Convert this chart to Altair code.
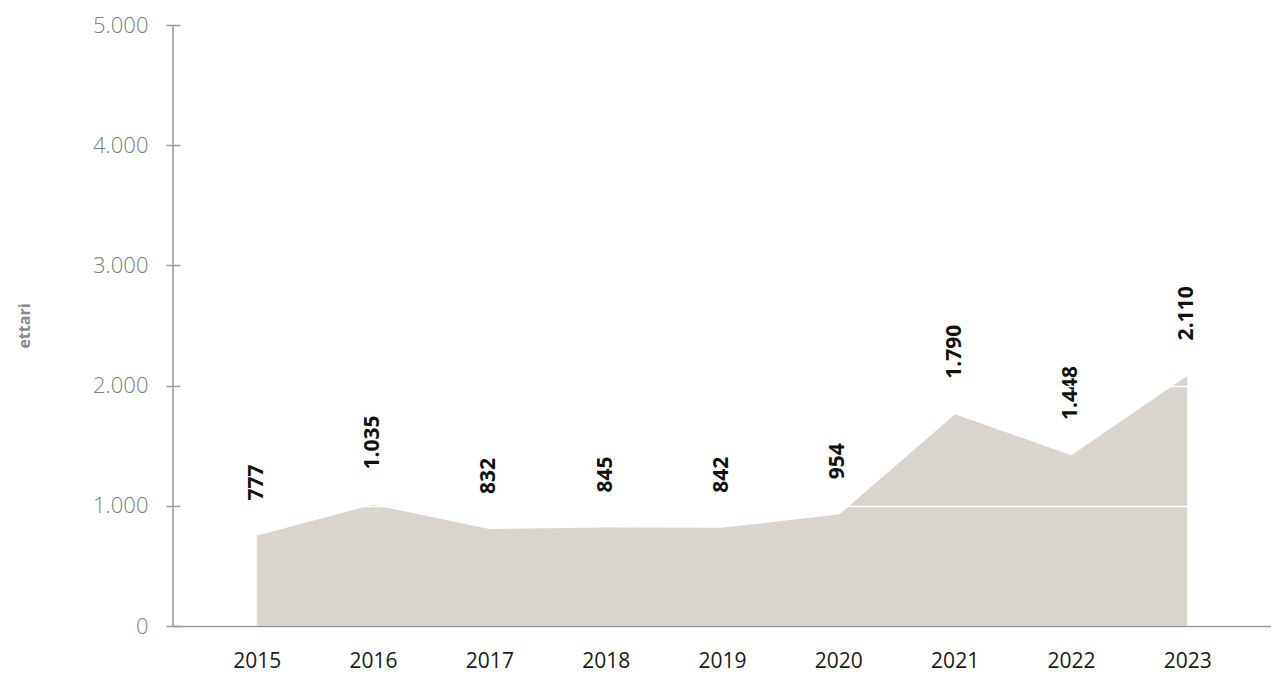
import altair as alt
import pandas as pd

years = ["2015", "2016", "2017", "2018", "2019", "2020", "2021", "2022", "2023"]
ettari = [777, 1035, 832, 845, 842, 954, 1790, 1448, 2110]
y_ticks = [0, 1000, 2000, 3000, 4000, 5000]

df = pd.DataFrame({"anno": years, "ettari": ettari})

W, H = 1098, 601
FONT = "Open Sans"
FILL = "#d9d4cd"

x_enc = alt.X("anno:O", scale=alt.Scale(type="point", padding=0.72),
              axis=alt.Axis(title=None, labelAngle=0, ticks=False, domain=True,
                            domainColor="#9a9a9a", domainWidth=1.5,
                            labelFont=FONT, labelFontSize=21, labelColor="#1a1a1a",
                            labelPadding=24, zindex=2))
y_scale = alt.Scale(domain=[0, 5000], nice=False, zero=True)

area = alt.Chart(df).mark_area(color=FILL, opacity=1, interpolate="linear").encode(
    x=x_enc,
    y=alt.Y("ettari:Q", scale=y_scale,
            axis=alt.Axis(title="ettari", values=y_ticks, domain=False,
                          tickSize=14, tickColor="#9a9a9a", tickWidth=1.5, offset=-7,
                          labelExpr="replace(format(datum.value, ','), ',', '.')",
                          labelFont=FONT, labelFontSize=22, labelFontWeight=300,
                          labelColor="#7d7d7d", labelPadding=18,
                          grid=True, gridColor="#ffffff", gridWidth=1.5,
                          titleFont=FONT, titleFontSize=16, titleFontWeight="bold",
                          titleColor="#8a8a8a", titlePadding=60, zindex=1)),
)

edge = alt.Chart(df).mark_line(color="white", strokeWidth=6, strokeCap="butt").encode(
    x=alt.X("anno:O"),
    y=alt.Y("ettari:Q"),
)

yline = alt.Chart(pd.DataFrame({"a": [0], "b": [5000]})).mark_rule(
    color="#9a9a9a", strokeWidth=1.5).encode(
    x=alt.value(0),
    y=alt.Y("a:Q"),
    y2=alt.Y2("b:Q"),
)

labels = alt.Chart(df).transform_calculate(
    lab="replace(format(datum.ettari, ','), ',', '.')"
).mark_text(angle=270, align="left", baseline="middle", dx=32,
            font=FONT, fontSize=21, fontWeight="bold", color="#111111").encode(
    x=alt.X("anno:O"),
    y=alt.Y("ettari:Q"),
    text=alt.Text("lab:N"),
)

chart = alt.layer(area, edge, labels, yline).properties(
    width=W, height=H,
    autosize=alt.AutoSizeParams(type="none"),
    padding={"left": 165, "top": 17, "right": 0, "bottom": 46},
).configure_view(stroke=None).configure(background="white")

chart.save("out.html", embed_options={"renderer": "svg", "actions": False})
